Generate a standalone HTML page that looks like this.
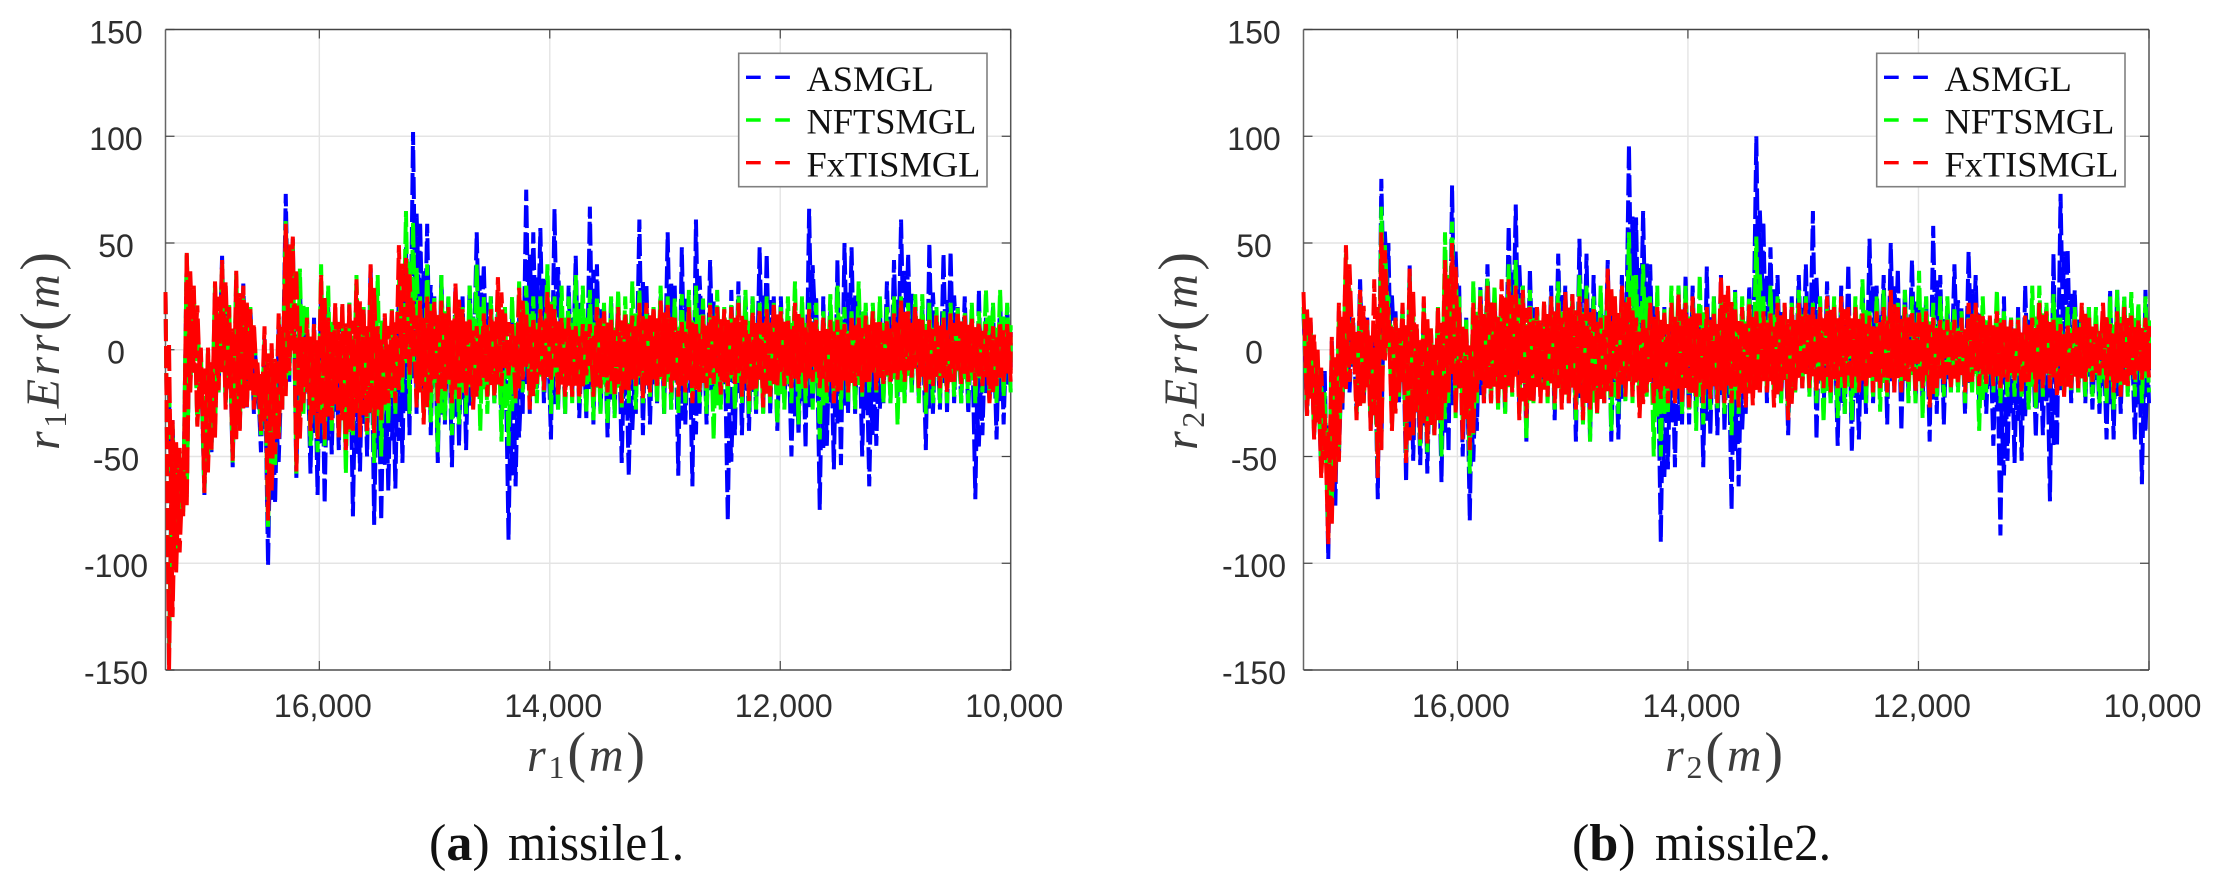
<!DOCTYPE html>
<html lang="en">
<head>
<meta charset="utf-8">
<title>Range error comparison for missile1 and missile2</title>
<style>
html,body{margin:0;padding:0;background:#fff;}
svg{display:block;}
</style>
</head>
<body>
<svg id="figure" xmlns="http://www.w3.org/2000/svg" width="2215" height="885" viewBox="0 0 2215 885"></svg>
<script>
// Shared axis values
var yTickValues = [150, 100, 50, 0, -50, -100, -150];
var xTickValues = [16000, 14000, 12000, 10000];
var xTickLabels = ["16,000", "14,000", "12,000", "10,000"];
var legendLabels = ["ASMGL", "NFTSMGL", "FxTISMGL"];
var seriesKeys = ["asmgl", "nftsmgl", "fxtismgl"];
var seriesColors = ["#0000ff", "#00ff00", "#ff0000"];
var coreTightness = [0.42, 0.5, 0.72];
var rangeStart = 17335;
var rangeEnd = 10000;

// Missile 1 series: alternating upper / lower excursions along range
var missile1Asmgl = [27,-140,-33,-100,-50,-75,44,-17,25,-33,-5,-68,-5,-48,28,-20,44,-25,15,-55,33,-37,31,-27,20,-30,-10,-48,5,-101,-5,-72,10,-28,73,-15,52,-60,30,-25,8,-58,15,-68,30,-72,20,-49,15,-47,15,-50,22,-78,20,-57,20,-50,40,-82,10,-80,15,-66,12,-65,30,-53,48,-40,102,-30,60,-20,59,-40,25,-53,35,-35,25,-55,30,-45,25,-47,30,-20,55,-15,40,-22,25,-25,20,-30,15,-89,15,-64,15,-30,75,-30,55,-18,57,-25,15,-42,66,-28,20,-30,30,-22,44,-32,15,-32,
67,-35,40,-30,20,-41,24,-30,25,-53,15,-59,15,-30,61,-40,30,-35,20,-25,25,-30,55,-28,30,-59,48,-35,20,-64,61,-30,20,-35,42,-25,20,-25,15,-80,28,-40,32,-40,25,-38,25,-30,48,-30,45,-30,25,-38,25,-25,15,-50,15,-40,20,-46,66,-25,25,-75,25,-45,18,-56,42,-54,50,-30,48,-30,25,-50,18,-64,15,-45,20,-25,32,-25,42,-22,61,-22,45,-20,20,-22,20,-47,50,-30,15,-28,45,-30,46,-25,20,-25,25,-30,15,-70,28,-40,15,-25,20,-42,25,-35,20,-20];
var missile1Nftsmgl = [27,-140,-35,-100,-48,-76,45,-18,28,-35,0,-67,0,-47,30,-20,40,-25,22,-53,36,-36,28,-26,20,-27,-8,-40,5,-84,0,-55,15,-28,61,-12,50,-58,38,-30,20,-45,12,-48,40,-45,30,-38,20,-42,20,-58,22,-40,35,-30,20,-40,30,-53,35,-50,15,-35,19,-30,35,-20,65,-30,60,-25,25,-30,40,-34,25,-48,35,-33,25,-40,25,-35,20,-30,30,-25,40,-38,25,-30,25,-25,20,-43,20,-45,25,-25,32,-20,30,-23,25,-25,25,-20,40,-30,25,-28,30,-30,25,-25,35,-25,30,-30,
28,-33,25,-30,22,-35,25,-32,28,-27,25,-25,32,-28,28,-25,20,-22,20,-25,30,-30,25,-28,24,-30,26,-25,28,-25,30,-25,24,-30,22,-42,28,-28,20,-25,22,-28,25,-25,28,-30,25,-28,22,-30,25,-25,22,-35,20,-28,25,-25,32,-35,25,-25,22,-28,22,-42,18,-25,26,-25,30,-28,20,-25,18,-28,32,-22,22,-20,22,-20,25,-25,20,-25,25,-35,25,-25,22,-20,26,-25,26,-30,22,-25,20,-25,18,-25,22,-22,20,-25,18,-25,22,-25,18,-20,28,-20,22,-25,28,-22,22,-20];
var missile1Fxtismgl = [27,-150,-33,-105,-46,-78,46,-20,30,-36,1,-67,1,-48,32,-19,42,-28,20,-52,37,-38,30,-27,19,-28,-6,-38,11,-80,3,-49,17,-28,59,-10,53,-57,11,-25,15,-38,12,-42,35,-42,15,-33,22,-42,22,-47,22,-38,33,-41,19,-38,40,-39,11,-33,17,-25,19,-25,49,-13,43,-12,23,-27,23,-35,25,-20,23,-25,23,-20,20,-25,31,-23,19,-22,15,-28,11,-17,17,-22,19,-22,34,-17,17,-12,12,-23,29,-14,17,-28,15,-16,19,-19,27,-14,19,-22,15,-22,15,-22,11,-23,12,-12,
12,-22,20,-18,18,-20,14,-21,20,-25,17,-19,16,-17,22,-23,22,-20,20,-18,23,-17,21,-20,15,-22,13,-20,20,-25,12,-20,16,-18,21,-16,20,-21,19,-17,20,-16,22,-22,14,-24,18,-19,19,-27,19,-22,22,-17,18,-17,14,-18,22,-16,15,-18,19,-15,14,-18,15,-20,14,-25,14,-19,12,-20,16,-17,15,-20,16,-15,18,-19,13,-16,14,-15,17,-14,23,-15,18,-13,20,-18,14,-20,14,-17,16,-18,15,-20,17,-15,18,-16,16,-15,15,-17,13,-17,12,-25,11,-17,13,-15,12,-15];

// Missile 2 series: alternating upper / lower excursions along range
var missile2Asmgl = [17,-30,13,-40,-5,-58,-10,-98,4,-73,18,-28,33,-20,15,-30,33,-25,15,-37,12,-70,80,-5,50,-35,18,-25,20,-62,40,-52,10,-54,22,-58,10,-40,18,-62,28,-48,77,-30,30,-50,15,-80,20,-38,30,-25,40,-25,25,-25,20,-30,58,-15,68,-30,30,-43,38,-25,20,-20,20,-22,30,-33,45,-22,30,-25,26,-43,52,-30,45,-43,35,-25,25,-25,42,-43,20,-42,35,-20,96,-20,62,-20,65,-20,40,-25,15,-90,20,-56,20,-55,30,-35,35,-35,30,-30,20,-55,39,-40,25,-40,35,-38,
20,-75,28,-64,15,-30,30,-18,100,-20,60,-25,48,-20,35,-25,20,-40,25,-20,35,-18,40,-20,65,-42,25,-30,32,-25,20,-45,30,-30,40,-48,20,-42,30,-30,52,-25,30,-18,35,-35,50,-20,38,-38,28,-20,42,-25,25,-25,25,-43,58,-30,35,-35,20,-20,40,-18,20,-30,46,-15,35,-25,15,-30,15,-45,10,-87,25,-52,15,-53,20,-52,30,-25,15,-41,15,-40,20,-71,45,-45,73,-20,47,-25,28,-20,18,-25,20,-28,15,-30,15,-42,28,-42,28,-30,25,-20,15,-42,20,-63,28,-25];
var missile2Nftsmgl = [20,-28,12,-40,-5,-55,-20,-88,0,-62,15,-25,45,-15,15,-30,25,-25,12,-35,0,-58,67,-5,25,-35,15,-22,18,-50,35,-40,10,-45,20,-48,10,-40,20,-50,55,-25,60,-32,25,-35,15,-58,32,-25,28,-22,34,-25,30,-28,20,-30,40,-22,42,-30,30,-42,28,-25,20,-20,22,-25,25,-28,32,-25,20,-25,25,-33,35,-35,30,-43,25,-30,30,-25,25,-38,25,-30,20,-25,55,-25,35,-25,40,-22,25,-50,30,-50,20,-30,30,-25,30,-30,30,-28,22,-38,35,-35,20,-28,25,-28,25,-30,
27,-40,27,-30,25,-22,25,-20,53,-18,25,-20,30,-20,25,-25,20,-32,22,-20,28,-18,25,-22,22,-25,25,-34,20,-25,25,-32,20,-30,18,-33,25,-18,33,-25,18,-22,25,-29,28,-22,20,-18,22,-20,28,-25,25,-25,37,-32,25,-22,22,-22,25,-22,25,-20,20,-20,18,-25,15,-20,20,-38,25,-20,14,-20,28,-25,18,-22,15,-22,15,-22,15,-28,30,-28,30,-22,22,-18,26,-18,15,-20,20,-20,20,-20,20,-22,20,-22,20,-25,18,-25,25,-28,28,-20,25,-22,27,-22,22,-25,25,-20];
var missile2Fxtismgl = [27,-31,15,-42,0,-60,-30,-91,6,-62,22,-25,49,-15,15,-33,28,-25,14,-38,33,-60,55,-5,20,-38,15,-20,22,-53,38,-40,12,-42,25,-45,10,-40,20,-33,42,-20,50,-30,20,-42,10,-47,22,-20,25,-25,30,-25,22,-25,33,-25,33,-20,30,-33,28,-32,20,-25,20,-25,23,-22,25,-25,22,-28,27,-25,26,-28,25,-33,25,-28,20,-30,15,-25,38,-22,25,-23,30,-22,25,-22,15,-32,15,-20,22,-25,20,-23,18,-25,22,-25,26,-25,22,-27,25,-22,17,-25,20,-23,18,-25,34,-25,
30,-25,20,-27,20,-27,22,-26,18,-20,18,-20,17,-27,22,-20,22,-33,20,-20,22,-18,22,-18,20,-20,20,-18,25,-20,20,-18,25,-18,20,-18,20,-20,17,-18,16,-20,18,-18,20,-20,28,-20,20,-20,20,-15,18,-20,18,-18,18,-27,15,-18,14,-16,14,-18,14,-16,15,-20,22,-15,22,-17,16,-16,16,-17,18,-18,15,-15,14,-15,14,-20,16,-15,15,-20,22,-18,18,-18,14,-22,12,-22,12,-18,15,-18,22,-15,15,-15,12,-12,22,-18,12,-20,18,-22,20,-17,16,-14,14,-14,15,-13];

var NS = "http://www.w3.org/2000/svg";
var figure = document.getElementById("figure");

function el(tag, attrs, parent) {
  var node = document.createElementNS(NS, tag);
  for (var key in attrs) { node.setAttribute(key, attrs[key]); }
  parent.appendChild(node);
  return node;
}

function xScaleFor(panel) {
  return function (r) {
    return panel.right - (r - rangeEnd) * (panel.right - panel.left) / (rangeStart - rangeEnd);
  };
}
function yScaleFor(panel) {
  return function (v) {
    return panel.bottom - (v + 150) * (panel.bottom - panel.top) / 300;
  };
}

function rangeAt(i, n) {
  return rangeStart + (rangeEnd - rangeStart) * i / (n - 1);
}

// Main trace: each value in order
function tracePoints(values, xScale, yScale) {
  return values.map(function (v, i) {
    return xScale(rangeAt(i, values.length)).toFixed(2) + "," + yScale(v).toFixed(2);
  }).join(" ");
}

// Inner trace: the same excursions tightened around each pair's midpoint and
// shifted by one sample, which fills the dense core of the noise band.
function corePoints(values, xScale, yScale, tighten) {
  var pts = [];
  for (var i = 0; i + 1 < values.length; i += 2) {
    var hi = values[i], lo = values[i + 1];
    var mid = (hi + lo) / 2, half = (hi - lo) / 2 * tighten;
    pts.push(xScale(rangeAt(i + 1, values.length)).toFixed(2) + "," + yScale(mid + half).toFixed(2));
    var nextIndex = Math.min(i + 2, values.length - 1);
    pts.push(xScale(rangeAt(nextIndex, values.length)).toFixed(2) + "," + yScale(mid - half).toFixed(2));
  }
  return pts.join(" ");
}

function drawPanel(panel) {
  var xScale = xScaleFor(panel);
  var yScale = yScaleFor(panel);
  var off = panel.offset;

  var g = el("g", {}, figure);
  
  

  var clip = el("clipPath", { id: panel.id + "-clip" }, g);
  el("rect", { x: panel.left - 2, y: panel.top, width: panel.right - panel.left + 5, height: panel.bottom - panel.top + 1 }, clip);

  // Grid
  yTickValues.forEach(function (v) {
    if (v === 150 || v === -150) return;
    var line = el("line", { x1: panel.left, x2: panel.right, y1: yScale(v), y2: yScale(v), stroke: "#e4e4e4", "stroke-width": 1.4 }, g);
    
    
  });
  xTickValues.forEach(function (r) {
    if (r === rangeEnd) return;
    var line = el("line", { x1: xScale(r), x2: xScale(r), y1: panel.top, y2: panel.bottom, stroke: "#e4e4e4", "stroke-width": 1.4 }, g);
    
    
  });

  // Frame
  var frameTop = el("line", { x1: panel.left, x2: panel.right, y1: panel.top, y2: panel.top, stroke: "#444", "stroke-width": 1.4 }, g);
  
  
  var frameBottom = el("line", { x1: panel.left, x2: panel.right, y1: panel.bottom, y2: panel.bottom, stroke: "#666", "stroke-width": 1.8 }, g);
  
  
  var frameLeft = el("line", { x1: panel.left, x2: panel.left, y1: panel.top, y2: panel.bottom, stroke: "#666", "stroke-width": 1.5 }, g);
  
  
  var frameRight = el("line", { x1: panel.right, x2: panel.right, y1: panel.top, y2: panel.bottom, stroke: "#555", "stroke-width": 1.5 }, g);
  
  

  // Y ticks and labels
  yTickValues.forEach(function (v) {
    var y = yScale(v);
    var tl = el("line", { x1: panel.left, x2: panel.left + 9, y1: y, y2: y, stroke: "#444", "stroke-width": 1.2 }, g);
    
    
    var tr = el("line", { x1: panel.right - 9, x2: panel.right, y1: y, y2: y, stroke: "#444", "stroke-width": 1.2 }, g);
    
    
    var t = el("text", { x: 116 + off, y: y + 13.8, "text-anchor": "middle", "font-family": '"Liberation Sans", sans-serif', "font-size": 32, fill: "#2e2e2e" }, g);
    
    
    t.textContent = String(v);
  });

  // X ticks and labels
  xTickValues.forEach(function (r, i) {
    var x = xScale(r);
    var tb = el("line", { x1: x, x2: x, y1: panel.bottom - 9, y2: panel.bottom, stroke: "#444", "stroke-width": 1.2 }, g);
    
    
    var tt = el("line", { x1: x, x2: x, y1: panel.top, y2: panel.top + 9, stroke: "#444", "stroke-width": 1.2 }, g);
    
    
    var t = el("text", { x: x + 3.5, y: 717, "text-anchor": "middle", "font-family": '"Liberation Sans", sans-serif', "font-size": 32, fill: "#2e2e2e" }, g);
    
    
    t.textContent = xTickLabels[i];
  });

  // Series
  var seriesGroup = el("g", { "clip-path": "url(#" + panel.id + "-clip)" }, g);
  
  
  panel.series.forEach(function (values, s) {
    var line = el("polyline", { points: tracePoints(values, xScale, yScale), fill: "none", stroke: seriesColors[s], "stroke-width": 4, "stroke-linejoin": "bevel", "stroke-dasharray": "22 5" }, seriesGroup);
    
    
    var core = el("polyline", { points: corePoints(values, xScale, yScale, coreTightness[s]), fill: "none", stroke: seriesColors[s], "stroke-width": 4, "stroke-linejoin": "bevel", "stroke-dasharray": "26 6" }, seriesGroup);
    
    
  });

  // Legend
  var legend = el("g", {}, g);
  
  
  el("rect", { x: 738.7 + off, y: 53.3, width: 248.3, height: 133.4, fill: "#fff", stroke: "#808080", "stroke-width": 1.6 }, legend);
  legendLabels.forEach(function (label, i) {
    var yLine = 77.3 + i * 42.7;
    var entry = el("g", {}, legend);
    
    
    el("line", { x1: 746 + off, x2: 790 + off, y1: yLine, y2: yLine, stroke: seriesColors[i], "stroke-width": 3.4, "stroke-dasharray": "14.7 14.5" }, entry);
    var t = el("text", { x: 806.5 + off, y: yLine + 13.6, "font-family": '"Liberation Serif", serif', "font-size": 36.4, fill: "#111" }, entry);
    t.textContent = label;
  });

  // Axis titles
  var xt = el("text", { x: 527 + off, y: 771, "font-family": '"Liberation Serif", serif', "font-style": "italic", "font-size": 48, fill: "#3c3c3c", textLength: 118, lengthAdjust: "spacing" }, g);
  
  
  xt.innerHTML = 'r<tspan font-size="32" dy="7" font-style="normal">' + panel.index + '</tspan><tspan dy="-7" font-style="normal" font-size="56">(</tspan>m<tspan font-style="normal" font-size="56">)</tspan>';

  var yt = el("text", { transform: "translate(" + (59 + off) + ",450) rotate(-90)", x: 0, y: 0, "font-family": '"Liberation Serif", serif', "font-style": "italic", "font-size": 48, fill: "#3c3c3c", textLength: 198, lengthAdjust: "spacing" }, g);
  
  
  yt.innerHTML = 'r<tspan font-size="32" dy="7" font-style="normal">' + panel.index + '</tspan><tspan dy="-7">Err</tspan><tspan font-style="normal" font-size="56">(</tspan>m<tspan font-style="normal" font-size="56">)</tspan>';

  // Caption
  var capA = el("text", { x: panel.captionX, y: 860, "font-family": '"Liberation Serif", serif', "font-size": 52, fill: "#111" }, g);
  
  
  capA.innerHTML = '(<tspan font-weight="bold">' + panel.letter + '</tspan>)';
  var capB = el("text", { x: panel.captionTextX, y: 860, "font-family": '"Liberation Serif", serif', "font-size": 52, fill: "#111", textLength: 176, lengthAdjust: "spacingAndGlyphs" }, g);
  
  
  capB.textContent = panel.caption;
}

drawPanel({ id: "missile1", index: "1", letter: "a", caption: "missile1.", offset: 0, left: 165.5, right: 1010.7, top: 29.5, bottom: 670, captionX: 429, captionTextX: 508, series: [missile1Asmgl, missile1Nftsmgl, missile1Fxtismgl] });
drawPanel({ id: "missile2", index: "2", letter: "b", caption: "missile2.", offset: 1138, left: 1303.5, right: 2149, top: 29.5, bottom: 670, captionX: 1572, captionTextX: 1655, series: [missile2Asmgl, missile2Nftsmgl, missile2Fxtismgl] });
</script>
</body>
</html>
